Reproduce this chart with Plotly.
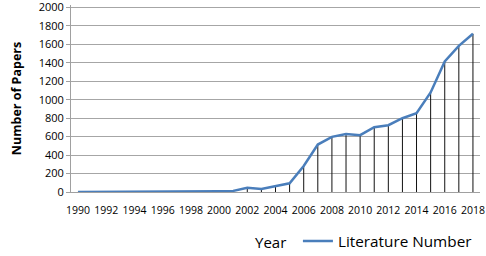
import plotly.graph_objects as go

years = [str(y) for y in range(1990, 2019)]
papers = [1, 1, 1, 1, 1, 1, 1, 2, 2, 5, 8, 12, 47, 33, 62, 94, 282, 514, 597, 629, 615,
          702, 723, 799, 853, 1078, 1414, 1583, 1714]
tick_years = [str(y) for y in range(1990, 2019, 2)]
y_max = 2000
y_step = 200

FONT = "Open Sans"

fig = go.Figure()
fig.add_trace(go.Scatter(
    x=years, y=papers, mode="lines", name="Literature Number",
    line=dict(color="#4a7ebb", width=2.5),
    error_y=dict(type="data", symmetric=False, array=[0] * len(papers),
                 arrayminus=papers, width=0, thickness=1, color="#111111"),
))

fig.update_layout(
    width=486, height=256,
    margin=dict(l=71, r=6, t=5, b=64, autoexpand=False),
    paper_bgcolor="white", plot_bgcolor="white",
    font=dict(family=FONT, size=10, color="#000000"),
    showlegend=True,
    legend=dict(orientation="h", xref="container", yref="container",
                x=0.613, y=0.058, xanchor="left", yanchor="middle",
                font=dict(size=15.3, family=FONT), bgcolor="rgba(0,0,0,0)"),
    annotations=[dict(text="Year", x=0.487, y=-0.265, xref="paper", yref="paper",
                      showarrow=False, font=dict(size=15, family=FONT),
                      xanchor="center", yanchor="middle")],
)
fig.update_xaxes(
    type="category", tickmode="array", tickvals=tick_years, ticktext=tick_years,
    range=[-0.5, len(years) - 0.5],
    showgrid=False, showline=True, linecolor="#a0a0a0", linewidth=1,
    ticks="", tickangle=0, tickfont=dict(size=10.5), ticklabelstandoff=8,
    automargin=False,
)
fig.update_yaxes(
    range=[0, y_max + 25], tickmode="linear", tick0=0, dtick=y_step,
    showgrid=True, gridcolor="#a6a6a6", gridwidth=1,
    showline=True, linecolor="#a0a0a0", linewidth=1,
    ticks="outside", ticklen=4, tickcolor="#a0a0a0", ticklabeloverflow="allow",
    tickfont=dict(size=11), zeroline=False, automargin=False,
    title=dict(text="<b>Number of Papers</b>", font=dict(size=12.5), standoff=14),
)
fig.write_html("out.html", config={"displayModeBar": False},
               post_script="document.body.style.margin='0';document.body.style.overflow='hidden';")
